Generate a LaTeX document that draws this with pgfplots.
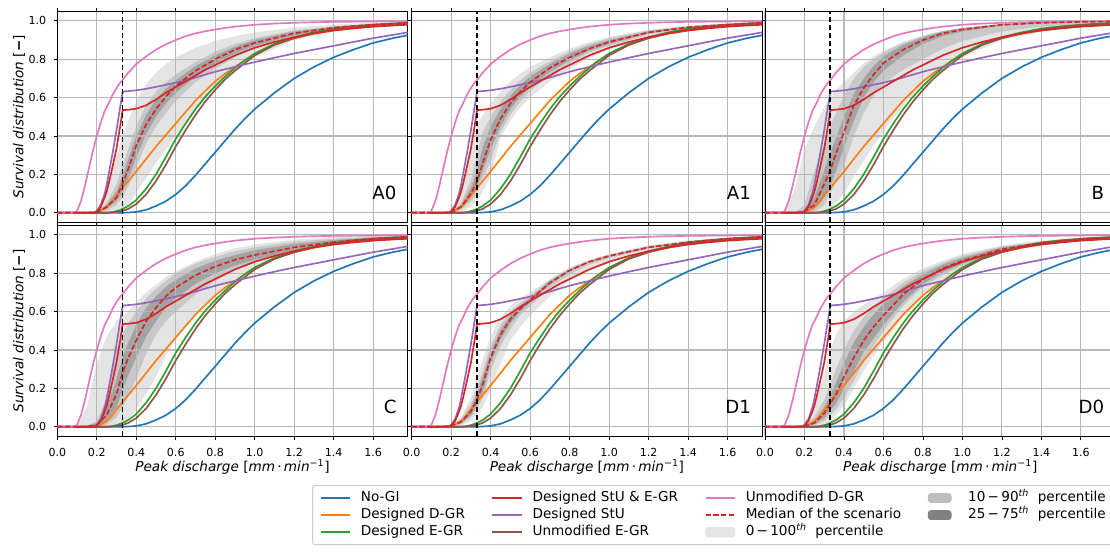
\documentclass[border=0pt]{standalone}
\usepackage{pgfplots}
\pgfplotsset{compat=1.18}
\usepackage{pgfplotstable}
\usepgfplotslibrary{fillbetween}
\usepackage{fontspec}
\setmainfont{DejaVu Sans}

\definecolor{tbblue}{HTML}{1F77B4}
\definecolor{tborange}{HTML}{FF7F0E}
\definecolor{tbgreen}{HTML}{2CA02C}
\definecolor{tbred}{HTML}{D62728}
\definecolor{tbpurple}{HTML}{9467BD}
\definecolor{tbbrown}{HTML}{8C564B}
\definecolor{tbpink}{HTML}{E377C2}
\definecolor{bandL}{HTML}{E4E4E4}
\definecolor{bandM}{HTML}{C8C8C8}
\definecolor{bandD}{HTML}{A3A3A3}
\definecolor{legL}{HTML}{E5E5E5}
\definecolor{legM}{HTML}{BDBDBD}
\definecolor{legD}{HTML}{808080}
\definecolor{gridc}{HTML}{B8B8B8}
\definecolor{legframe}{HTML}{CCCCCC}

\pgfplotstableread{
x nogi dgr egr stueg stu uegr udgr
0 0 0 0 0 0 0 0
0.09 0 0 0 0 0 0 0
0.1 0 0 0 0 0 0 0.01
0.12 0 0 0 0 0 0 0.06
0.14 0 0 0 0 0 0 0.14
0.16 0 0 0 0 0 0 0.23
0.18 0 0 0 0 0 0 0.32
0.19 0 0.002 0 0 0.003 0 0.36
0.2 0 0.005 0 0.005 0.01 0 0.40
0.22 0 0.012 0 0.03 0.04 0 0.47
0.24 0 0.022 0 0.08 0.10 0 0.53
0.25 0 0.03 0 0.11 0.145 0 0.55
0.26 0 0.038 0.001 0.15 0.20 0 0.57
0.28 0 0.06 0.003 0.24 0.31 0.002 0.615
0.3 0 0.09 0.008 0.335 0.43 0.005 0.65
0.32 0 0.115 0.015 0.46 0.56 0.008 0.68
0.33 0 0.13 0.02 0.53 0.625 0.01 0.69
0.335 0 0.135 0.022 0.535 0.632 0.011 0.697
0.36 0.001 0.165 0.035 0.537 0.634 0.02 0.73
0.4 0.004 0.215 0.066 0.542 0.638 0.045 0.775
0.45 0.015 0.28 0.125 0.56 0.646 0.095 0.815
0.5 0.035 0.345 0.2 0.59 0.656 0.165 0.85
0.55 0.06 0.405 0.29 0.625 0.667 0.25 0.878
0.6 0.095 0.465 0.385 0.655 0.678 0.345 0.90
0.65 0.14 0.525 0.465 0.685 0.69 0.43 0.92
0.7 0.195 0.585 0.54 0.715 0.705 0.51 0.935
0.75 0.255 0.635 0.605 0.745 0.72 0.58 0.946
0.8 0.315 0.685 0.66 0.77 0.735 0.64 0.955
0.85 0.375 0.725 0.71 0.795 0.748 0.695 0.963
0.9 0.435 0.76 0.755 0.82 0.76 0.74 0.97
0.95 0.49 0.795 0.795 0.84 0.773 0.78 0.975
1.0 0.54 0.825 0.83 0.86 0.785 0.82 0.98
1.1 0.625 0.875 0.88 0.89 0.808 0.875 0.986
1.2 0.70 0.91 0.915 0.915 0.83 0.91 0.99
1.3 0.76 0.933 0.94 0.935 0.85 0.935 0.993
1.4 0.81 0.95 0.96 0.95 0.87 0.955 0.995
1.5 0.85 0.962 0.972 0.961 0.89 0.968 0.996
1.6 0.885 0.972 0.98 0.97 0.91 0.978 0.997
1.7 0.91 0.978 0.986 0.976 0.927 0.984 0.998
1.775 0.925 0.982 0.99 0.98 0.94 0.988 0.998
}\tLines

\pgfplotstableread{
x h0 h10 h25 med l25 l10 l0
0 0 0 0 0 0 0 0
0.15 0 0 0 0 0 0 0
0.2 0.01 0.005 0.003 0.002 0.001 0 0
0.25 0.12 0.05 0.04 0.03 0.02 0.01 0.002
0.3 0.30 0.15 0.11 0.08 0.06 0.04 0.01
0.33 0.40 0.24 0.19 0.15 0.11 0.08 0.025
0.36 0.48 0.33 0.28 0.23 0.18 0.14 0.045
0.4 0.58 0.45 0.40 0.35 0.29 0.24 0.10
0.45 0.67 0.56 0.51 0.46 0.41 0.36 0.18
0.5 0.73 0.63 0.59 0.54 0.50 0.45 0.26
0.55 0.775 0.68 0.645 0.605 0.57 0.52 0.33
0.6 0.81 0.72 0.69 0.66 0.625 0.585 0.40
0.7 0.86 0.785 0.765 0.74 0.71 0.68 0.54
0.8 0.895 0.84 0.82 0.80 0.775 0.75 0.65
0.9 0.92 0.88 0.865 0.85 0.83 0.81 0.74
1.0 0.94 0.91 0.90 0.885 0.87 0.855 0.81
1.2 0.965 0.95 0.945 0.935 0.925 0.915 0.90
1.4 0.98 0.97 0.97 0.965 0.96 0.95 0.945
1.6 0.99 0.985 0.983 0.98 0.977 0.972 0.97
1.775 0.995 0.992 0.99 0.99 0.988 0.985 0.985
}\tAzero

\pgfplotstableread{
x h0 h10 h25 med l25 l10 l0
0 0 0 0 0 0 0 0
0.15 0 0 0 0 0 0 0
0.2 0.01 0.004 0.003 0.002 0.001 0 0
0.25 0.1 0.05 0.04 0.03 0.025 0.015 0.005
0.3 0.36 0.17 0.13 0.1 0.08 0.06 0.03
0.33 0.45 0.30 0.22 0.16 0.13 0.10 0.06
0.36 0.51 0.42 0.34 0.26 0.22 0.18 0.11
0.4 0.57 0.50 0.45 0.38 0.33 0.27 0.19
0.45 0.63 0.58 0.54 0.49 0.45 0.42 0.39
0.5 0.685 0.64 0.61 0.57 0.54 0.51 0.48
0.55 0.725 0.69 0.665 0.63 0.605 0.58 0.55
0.6 0.76 0.73 0.71 0.68 0.655 0.635 0.60
0.7 0.81 0.79 0.775 0.755 0.735 0.72 0.685
0.8 0.855 0.84 0.83 0.81 0.795 0.78 0.75
0.9 0.89 0.88 0.87 0.855 0.845 0.835 0.805
1.0 0.915 0.91 0.90 0.89 0.88 0.87 0.85
1.2 0.955 0.95 0.945 0.94 0.935 0.93 0.915
1.4 0.975 0.972 0.97 0.967 0.963 0.96 0.955
1.6 0.988 0.985 0.983 0.98 0.978 0.976 0.972
1.775 0.995 0.992 0.99 0.99 0.988 0.986 0.984
}\tAone

\pgfplotstableread{
x h0 h10 h25 med l25 l10 l0
0 0 0 0 0 0 0 0
0.1 0.005 0 0 0 0 0 0
0.15 0.12 0 0 0 0 0 0
0.2 0.33 0.04 0.01 0.005 0 0 0
0.25 0.45 0.22 0.08 0.04 0.02 0.005 0.003
0.3 0.55 0.36 0.22 0.15 0.08 0.04 0.01
0.33 0.60 0.45 0.31 0.22 0.14 0.10 0.025
0.36 0.64 0.52 0.39 0.31 0.22 0.16 0.05
0.4 0.68 0.61 0.50 0.42 0.34 0.25 0.10
0.45 0.73 0.70 0.62 0.56 0.48 0.40 0.19
0.5 0.78 0.76 0.70 0.65 0.60 0.52 0.27
0.55 0.815 0.80 0.765 0.72 0.68 0.61 0.35
0.6 0.845 0.835 0.815 0.78 0.74 0.675 0.42
0.7 0.89 0.885 0.875 0.85 0.82 0.745 0.56
0.8 0.925 0.92 0.915 0.90 0.88 0.80 0.67
0.9 0.95 0.945 0.945 0.935 0.92 0.855 0.75
1.0 0.965 0.962 0.962 0.955 0.945 0.895 0.81
1.2 0.985 0.982 0.983 0.98 0.975 0.945 0.90
1.4 0.993 0.99 0.992 0.99 0.987 0.97 0.945
1.6 0.997 0.995 0.996 0.995 0.993 0.985 0.97
1.775 0.998 0.997 0.997 0.997 0.996 0.992 0.985
}\tB

\pgfplotstableread{
x h0 h10 h25 med l25 l10 l0
0 0 0 0 0 0 0 0
0.1 0.002 0 0 0 0 0 0
0.15 0.10 0.005 0 0 0 0 0
0.2 0.33 0.03 0.02 0.01 0.003 0 0
0.25 0.47 0.15 0.10 0.06 0.03 0.01 0.002
0.3 0.55 0.40 0.25 0.17 0.10 0.05 0.01
0.33 0.58 0.48 0.36 0.28 0.19 0.10 0.02
0.36 0.60 0.54 0.44 0.36 0.27 0.16 0.04
0.4 0.65 0.60 0.53 0.45 0.36 0.25 0.09
0.45 0.70 0.67 0.62 0.55 0.47 0.38 0.17
0.5 0.74 0.72 0.68 0.62 0.55 0.48 0.26
0.55 0.78 0.76 0.73 0.68 0.62 0.55 0.37
0.6 0.81 0.80 0.765 0.725 0.67 0.60 0.46
0.7 0.86 0.85 0.825 0.79 0.745 0.69 0.59
0.8 0.90 0.885 0.865 0.835 0.80 0.76 0.69
0.9 0.93 0.915 0.895 0.87 0.84 0.82 0.77
1.0 0.95 0.935 0.92 0.895 0.87 0.86 0.83
1.2 0.975 0.965 0.953 0.935 0.92 0.915 0.91
1.4 0.99 0.98 0.973 0.962 0.952 0.95 0.948
1.6 0.995 0.99 0.986 0.98 0.973 0.972 0.97
1.775 0.997 0.995 0.993 0.99 0.986 0.985 0.985
}\tC

\pgfplotstableread{
x h0 h10 h25 med l25 l10 l0
0 0 0 0 0 0 0 0
0.15 0 0 0 0 0 0 0
0.2 0.01 0.008 0.006 0.005 0.003 0.002 0
0.25 0.05 0.04 0.03 0.025 0.018 0.012 0.005
0.3 0.15 0.12 0.10 0.08 0.06 0.05 0.03
0.33 0.25 0.20 0.17 0.14 0.11 0.09 0.06
0.36 0.35 0.29 0.26 0.22 0.18 0.15 0.10
0.4 0.47 0.42 0.39 0.36 0.33 0.29 0.20
0.45 0.57 0.53 0.505 0.48 0.455 0.42 0.33
0.5 0.63 0.60 0.58 0.56 0.54 0.51 0.45
0.55 0.67 0.645 0.63 0.615 0.60 0.58 0.52
0.6 0.70 0.685 0.672 0.66 0.648 0.63 0.58
0.7 0.77 0.765 0.758 0.75 0.742 0.725 0.68
0.8 0.83 0.825 0.82 0.815 0.81 0.795 0.76
0.9 0.87 0.867 0.863 0.86 0.857 0.845 0.82
1.0 0.90 0.897 0.893 0.89 0.887 0.878 0.86
1.2 0.945 0.942 0.938 0.935 0.932 0.928 0.92
1.4 0.97 0.968 0.965 0.962 0.96 0.958 0.953
1.6 0.985 0.984 0.982 0.98 0.978 0.976 0.972
1.775 0.993 0.992 0.991 0.99 0.989 0.988 0.985
}\tDone

\pgfplotstableread{
x h0 h10 h25 med l25 l10 l0
0 0 0 0 0 0 0 0
0.15 0 0 0 0 0 0 0
0.2 0.01 0.006 0.004 0.003 0.001 0 0
0.25 0.10 0.05 0.03 0.02 0.012 0.008 0.002
0.3 0.28 0.14 0.10 0.07 0.045 0.03 0.01
0.33 0.40 0.22 0.16 0.12 0.085 0.06 0.03
0.36 0.48 0.30 0.23 0.17 0.12 0.09 0.06
0.4 0.55 0.40 0.33 0.26 0.20 0.15 0.11
0.45 0.60 0.50 0.44 0.36 0.29 0.24 0.20
0.5 0.635 0.57 0.52 0.45 0.39 0.34 0.29
0.55 0.67 0.63 0.585 0.52 0.46 0.42 0.37
0.6 0.70 0.67 0.64 0.58 0.53 0.50 0.44
0.7 0.77 0.75 0.73 0.69 0.65 0.63 0.57
0.8 0.825 0.81 0.795 0.77 0.745 0.73 0.68
0.9 0.865 0.855 0.845 0.825 0.805 0.79 0.77
1.0 0.90 0.89 0.88 0.865 0.85 0.84 0.83
1.2 0.945 0.94 0.935 0.925 0.915 0.91 0.905
1.4 0.97 0.966 0.963 0.958 0.953 0.95 0.948
1.6 0.985 0.982 0.98 0.978 0.975 0.973 0.972
1.775 0.993 0.991 0.99 0.988 0.987 0.986 0.985
}\tDzero

\pgfplotsset{
  panel/.style={
    anchor=south west, scale only axis, width=262.8pt, height=158.25pt,
    xmin=0, xmax=1.775, ymin=-0.05, ymax=1.05,
    xtick={0,0.2,0.4,0.6,0.8,1.0,1.2,1.4,1.6},
    ytick={0,0.2,0.4,0.6,0.8,1.0},
    grid=major, major grid style={gridc, line width=0.8pt},
    tick align=outside, tick pos=both, major tick length=2.6pt,
    tick style={black, line width=0.6pt},
    axis line style={black, line width=0.75pt},
    set layers,
    /pgf/number format/fixed, /pgf/number format/fixed zerofill,
    /pgf/number format/precision=1, /pgf/number format/assume math mode=true,
    tick label style={font=\fontsize{8.3}{10}\selectfont, inner sep=0pt},
    yticklabel style={anchor=east, xshift=-5.5pt},
    xticklabel style={anchor=north, yshift=-6.5pt},
    label style={font=\fontsize{10.2}{12}\selectfont},
    xlabel style={at={(axis description cs:0.5,-0.1455)}, anchor=center},
    ylabel style={at={(axis description cs:-0.1093,0.5)}, anchor=center},
  },
  noxt/.style={xticklabels={}},
  noyt/.style={yticklabels={}},
  cl/.style={line width=1.25pt, forget plot},
}

\newcommand\panel[2]{%
  \addplot[draw=none, forget plot, name path=hA] table[x=x,y=h0]{#1};
  \addplot[draw=none, forget plot, name path=lA] table[x=x,y=l0]{#1};
  \addplot[draw=none, forget plot, name path=hB] table[x=x,y=h10]{#1};
  \addplot[draw=none, forget plot, name path=lB] table[x=x,y=l10]{#1};
  \addplot[draw=none, forget plot, name path=hC] table[x=x,y=h25]{#1};
  \addplot[draw=none, forget plot, name path=lC] table[x=x,y=l25]{#1};
  \addplot[fill=bandL, draw=none, forget plot] fill between[of=hA and lA, on layer=axis background];
  \addplot[fill=bandM, draw=none, forget plot] fill between[of=hB and lB, on layer=axis background];
  \addplot[fill=bandD, draw=none, forget plot] fill between[of=hC and lC, on layer=axis background];
  \addplot[cl, tbblue] table[x=x,y=nogi]{\tLines};
  \addplot[cl, tborange] table[x=x,y=dgr]{\tLines};
  \addplot[cl, tbgreen] table[x=x,y=egr]{\tLines};
  \addplot[cl, tbbrown] table[x=x,y=uegr]{\tLines};
  \addplot[cl, tbpurple] table[x=x,y=stu]{\tLines};
  \addplot[cl, tbred] table[x=x,y=stueg]{\tLines};
  \addplot[cl, tbpink] table[x=x,y=udgr]{\tLines};
  \addplot[cl, tbred, dash pattern=on 4pt off 1.8pt] table[x=x,y=med]{#1};
  \addplot[cl, black, dash pattern=on 4.2pt off 1.8pt] coordinates {(0.33,-0.05) (0.33,1.05)};
  \node[anchor=base east, inner sep=0pt, font=\fontsize{13.6}{16}\selectfont] at (axis description cs:0.9686,0.110) {#2};
}

\newcommand\ylab{{\itshape Survival distribution} [\textbf{−}]}
\newcommand\xlab{{\itshape Peak discharge} [{\itshape mm}\,⋅\,{\itshape min}\textsuperscript{−1}]}

\begin{document}
\begin{tikzpicture}
\begin{axis}[panel, at={(42.975pt,247.275pt)}, noxt, ylabel={\ylab}]
\panel{\tAzero}{A0}
\end{axis}
\begin{axis}[panel, at={(308.775pt,247.275pt)}, noxt, noyt]
\panel{\tAone}{A1}
\end{axis}
\begin{axis}[panel, at={(573.75pt,247.275pt)}, noxt, noyt]
\panel{\tB}{B}
\end{axis}
\begin{axis}[panel, at={(42.975pt,86.775pt)}, xlabel={\xlab}, ylabel={\ylab}]
\panel{\tC}{C}
\end{axis}
\begin{axis}[panel, at={(308.775pt,86.775pt)}, noyt, xlabel={\xlab}]
\panel{\tDone}{D1}
\end{axis}
\begin{axis}[panel, at={(573.75pt,86.775pt)}, noyt, xlabel={\xlab}]
\panel{\tDzero}{D0}
\end{axis}
\begin{axis}[at={(234pt,0pt)}, anchor=south west, scale only axis, width=597pt, height=50.25pt,
  hide axis, xmin=0, xmax=1, ymin=0, ymax=1,
  legend columns=4, legend cell align=left,
  legend image code/.code={\draw[#1] (0pt,0pt) -- (22pt,0pt);},
  legend style={at={(0,1)}, anchor=north west, draw=legframe, rounded corners=2pt,
    line width=0.75pt, fill=white, inner xsep=5.5pt, inner ysep=3pt,
    font=\fontsize{10.2}{12}\selectfont,
    column sep=7.5pt, /tikz/every even column/.append style={column sep=20pt},
    nodes={inner xsep=0pt, inner ysep=1.5pt, text height=7.6pt, text depth=2.2pt}},
]
\addlegendimage{tbblue, line width=1.25pt}
\addlegendentry{No-GI}
\addlegendimage{tbred, line width=1.25pt}
\addlegendentry{Designed StU \& E-GR}
\addlegendimage{tbpink, line width=1.25pt}
\addlegendentry{Unmodified D-GR}
\addlegendimage{legend image code/.code={\fill[legM] (0pt,-3.3pt) rectangle (17pt,3.3pt); \path (22pt,0pt);}}
\addlegendentry{10\,−\,90\textsuperscript{\itshape th}\ \ percentile}
\addlegendimage{tborange, line width=1.25pt}
\addlegendentry{Designed D-GR}
\addlegendimage{tbpurple, line width=1.25pt}
\addlegendentry{Designed StU}
\addlegendimage{tbred, line width=1.25pt, dash pattern=on 4pt off 1.8pt}
\addlegendentry{Median of the scenario}
\addlegendimage{legend image code/.code={\fill[legD] (0pt,-3.3pt) rectangle (17pt,3.3pt); \path (22pt,0pt);}}
\addlegendentry{25\,−\,75\textsuperscript{\itshape th}\ \ percentile}
\addlegendimage{tbgreen, line width=1.25pt}
\addlegendentry{Designed E-GR}
\addlegendimage{tbbrown, line width=1.25pt}
\addlegendentry{Unmodified E-GR}
\addlegendimage{legend image code/.code={\fill[legL] (0pt,-3.5pt) rectangle (22pt,3.5pt);}}
\addlegendentry{0\,−\,100\textsuperscript{\itshape th}\ \ percentile}
\end{axis}
\pgfresetboundingbox
\useasboundingbox (0pt,0pt) rectangle (832.5pt,414pt);
\end{tikzpicture}
\end{document}
